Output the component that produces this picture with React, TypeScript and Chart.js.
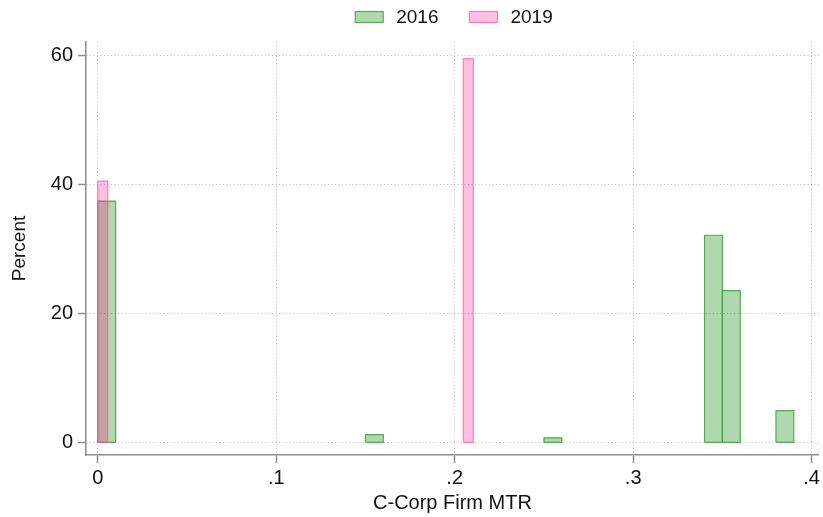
import React, { useEffect, useRef } from "react";
import { Chart, registerables } from "chart.js";

Chart.register(...registerables);

// 2016 histogram: bin starts (MTR), bin width, percent
const binStart2016 = [0, 0.15, 0.25, 0.34, 0.35, 0.38];
const binWidth2016 = 0.01;
const pct2016 = [37.4, 1.2, 0.7, 32.1, 23.5, 4.9];

// 2019 histogram
const binStart2019 = [0, 0.2048];
const binWidth2019 = 0.0056;
const pct2019 = [40.5, 59.5];

const xTicks = [0, 0.1, 0.2, 0.3, 0.4];
const xTickLabels = ["0", ".1", ".2", ".3", ".4"];
const yTicks = [0, 20, 40, 60];

const seriesNames = ["2016", "2019"];

const GREEN_FILL = "rgba(0,128,0,0.31)";
const GREEN_BORDER = "rgba(60,160,60,0.85)";
const PINK_FILL = "rgba(255,0,128,0.25)";
const PINK_BORDER = "rgba(255,80,170,0.7)";
const FONT = "'Liberation Sans', Arial, sans-serif";

function rectData(x0: number, w: number, h: number) {
  const x1 = x0 + w;
  return [
    { x: x0, y: 0 },
    { x: x0, y: h },
    { x: x1, y: h },
    { x: x1, y: 0 },
    { x: x0, y: 0 },
  ];
}

const legendPlugin = {
  id: "stataLegend",
  afterDraw(chart: any) {
    const { ctx, chartArea } = chart;
    const items = [
      { text: seriesNames[0], fill: GREEN_FILL, stroke: GREEN_BORDER },
      { text: seriesNames[1], fill: PINK_FILL, stroke: PINK_BORDER },
    ];
    const boxW = 28;
    const boxH = 11;
    const gapText = 13;
    const gapItem = 31;
    const cy = 17;
    ctx.save();
    ctx.font = `19px ${FONT}`;
    const widths = items.map((it) => ctx.measureText(it.text).width);
    let total = 0;
    items.forEach((_, i) => {
      total += boxW + gapText + widths[i];
      if (i < items.length - 1) total += gapItem;
    });
    let x = (chartArea.left + chartArea.right) / 2 - total / 2 + 1.5;
    items.forEach((it, i) => {
      ctx.fillStyle = it.fill;
      ctx.fillRect(x, cy - boxH / 2, boxW, boxH);
      ctx.strokeStyle = it.stroke;
      ctx.lineWidth = 1.2;
      ctx.strokeRect(x, cy - boxH / 2, boxW, boxH);
      x += boxW + gapText;
      ctx.fillStyle = "#111";
      ctx.textBaseline = "middle";
      ctx.textAlign = "left";
      ctx.fillText(it.text, x, cy + 1);
      x += widths[i] + gapItem;
    });
    ctx.restore();
  },
};

export default function App() {
  const ref = useRef<HTMLCanvasElement | null>(null);

  useEffect(() => {
    document.body.style.margin = "0";
    const ctx = ref.current!.getContext("2d")!;
    const datasets: any[] = [];
    binStart2016.forEach((s, i) => {
      datasets.push({
        label: seriesNames[0],
        data: rectData(s, binWidth2016, pct2016[i]),
        borderColor: GREEN_BORDER,
        backgroundColor: GREEN_FILL,
        borderWidth: 1.2,
        fill: "shape",
        pointRadius: 0,
        tension: 0,
        order: 2,
      });
    });
    binStart2019.forEach((s, i) => {
      datasets.push({
        label: seriesNames[1],
        data: rectData(s, binWidth2019, pct2019[i]),
        borderColor: PINK_BORDER,
        backgroundColor: PINK_FILL,
        borderWidth: 1.2,
        fill: "shape",
        pointRadius: 0,
        tension: 0,
        order: 1,
      });
    });

    const gridOpts: any = {
      color: "#b8b8b8",
      lineWidth: 1,
      tickColor: "#8c8c8c",
      tickLength: 8,
      tickWidth: 1.5,
      tickBorderDash: [],
    };
    const borderOpts: any = { display: true, color: "#8c8c8c", width: 1.5, dash: [1, 2.5] };

    const chart = new Chart(ctx, {
      type: "line",
      data: { datasets },
      plugins: [legendPlugin],
      options: {
        animation: false,
        responsive: false,
        maintainAspectRatio: false,
        layout: { padding: { top: 42, right: 3, left: 0, bottom: 0 } },
        plugins: {
          tooltip: { enabled: false },
          legend: { display: false },
        },
        scales: {
          x: {
            type: "linear",
            min: -0.0066,
            max: 0.4041,
            afterBuildTicks: (s: any) => {
              s.ticks = xTicks.map((v) => ({ value: v }));
            },
            afterFit: (s: any) => {
              s.height = 62;
            },
            ticks: {
              color: "#111",
              font: { family: FONT, size: 20 },
              padding: 3,
              maxRotation: 0,
              autoSkip: false,
              callback: (v: any) => {
                const i = xTicks.findIndex((t) => Math.abs(t - v) < 1e-9);
                return i >= 0 ? xTickLabels[i] : "";
              },
            },
            grid: gridOpts,
            border: borderOpts,
            title: {
              display: true,
              text: "C-Corp Firm MTR",
              color: "#111",
              font: { family: FONT, size: 20 },
              padding: { top: 4, bottom: 2 },
            },
          },
          y: {
            type: "linear",
            min: -1.97,
            max: 62.06,
            afterBuildTicks: (s: any) => {
              s.ticks = yTicks.map((v) => ({ value: v }));
            },
            afterFit: (s: any) => {
              s.width = 86;
            },
            ticks: {
              color: "#111",
              font: { family: FONT, size: 20 },
              padding: 5,
              autoSkip: false,
            },
            grid: gridOpts,
            border: borderOpts,
            title: {
              display: true,
              text: "Percent",
              color: "#111",
              font: { family: FONT, size: 19 },
              padding: { top: 8, bottom: 0 },
            },
          },
        },
      } as any,
    });
    return () => chart.destroy();
  }, []);

  return (
    <div style={{ width: 823, height: 517, background: "#fff" }}>
      <canvas ref={ref} width={823} height={517} />
    </div>
  );
}
